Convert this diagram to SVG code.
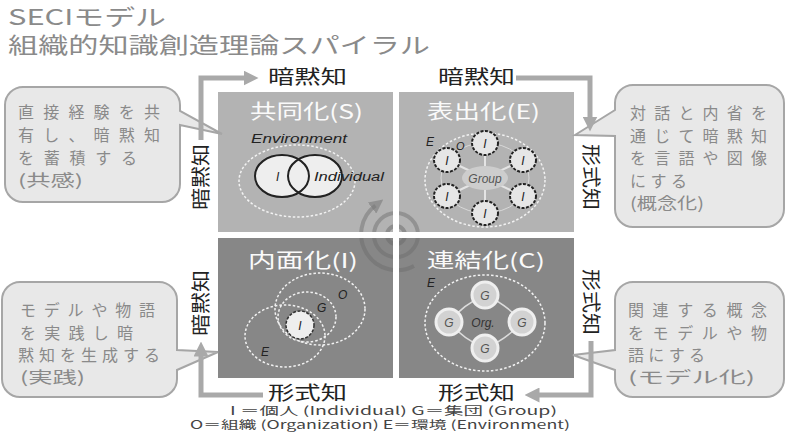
<svg xmlns="http://www.w3.org/2000/svg" width="787" height="438" viewBox="0 0 787 438">
<style>
.jp{font-family:"Noto Sans CJK JP","Noto Sans",sans-serif;}
.title{font-size:22px;fill:#8a8a8a;}
.bub{fill:#e8e8e8;stroke:#a6a6a6;stroke-width:2;}
.bt{font-size:16px;fill:#8a8a8a;}
.ql{font-size:20px;fill:#fafafa;}
.flow{font-size:19px;fill:#222;}
.arr{fill:none;stroke:#a9a9a9;stroke-width:5;}
.lat{font-family:"Liberation Sans",Arial,sans-serif;font-style:italic;font-size:12px;fill:#222;}
.dash{fill:none;stroke:#f2f2f2;stroke-width:1.5;stroke-dasharray:2.5 2;}
.leg{font-size:11.5px;fill:#444;}
</style>
<defs>
<marker id="ah" viewBox="0 0 10 10" refX="3" refY="5" markerWidth="15" markerHeight="15" markerUnits="userSpaceOnUse" orient="auto">
<path d="M0,0 L10,5 L0,10 Z" fill="#a9a9a9"/>
</marker>
<marker id="sp" viewBox="0 0 10 10" refX="3" refY="5" markerWidth="14" markerHeight="14" markerUnits="userSpaceOnUse" orient="auto">
<path d="M0,0 L10,5 L0,10 Z" fill="#7a7a7a" fill-opacity="0.6"/>
</marker>
</defs>

<g id="title">
<text class="jp title" x="8" y="25" textLength="158" lengthAdjust="spacingAndGlyphs">SECIモデル</text>
<text class="jp title" x="8" y="53" textLength="422" lengthAdjust="spacingAndGlyphs">組織的知識創造理論スパイラル</text>
</g>

<g id="quadrant-S">
<rect x="218" y="92" width="175" height="140" fill="#b3b3b3"/>
<text class="jp ql" x="250" y="119" textLength="113" lengthAdjust="spacingAndGlyphs">共同化(S)</text>
<ellipse class="dash" cx="297" cy="181" rx="58" ry="36"/>
<text class="lat" x="251" y="143" textLength="96" lengthAdjust="spacingAndGlyphs">Environment</text>
<ellipse cx="282" cy="176" rx="27" ry="21" fill="#eeeeee"/>
<ellipse cx="315" cy="176" rx="27" ry="21" fill="#eeeeee"/>
<ellipse cx="282" cy="176" rx="27" ry="21" fill="none" stroke="#222" stroke-width="2"/>
<ellipse cx="315" cy="176" rx="27" ry="21" fill="none" stroke="#222" stroke-width="2"/>
<text class="lat" x="276" y="181">I</text>
<text class="lat" x="314" y="181" textLength="70" lengthAdjust="spacingAndGlyphs">Individual</text>
</g>

<g id="quadrant-E">
<rect x="399" y="92" width="175" height="140" fill="#b3b3b3"/>
<text class="jp ql" x="427" y="119" textLength="113" lengthAdjust="spacingAndGlyphs">表出化(E)</text>
<ellipse class="dash" cx="485" cy="180" rx="60" ry="47"/>
<ellipse cx="485" cy="178" rx="44" ry="35" fill="none" stroke="#d8d8d8" stroke-width="1"/>
<g stroke="#e4e4e4" stroke-width="2">
<line x1="485" y1="178" x2="485" y2="143"/>
<line x1="485" y1="178" x2="485" y2="213"/>
<line x1="485" y1="178" x2="523" y2="160"/>
<line x1="485" y1="178" x2="523" y2="196"/>
<line x1="485" y1="178" x2="447" y2="160"/>
<line x1="485" y1="178" x2="447" y2="196"/>
</g>
<ellipse cx="485" cy="178" rx="23" ry="12" fill="#cdcdcd"/>
<text class="lat" x="485" y="183" text-anchor="middle" style="fill:#555">Group</text>
<g fill="#e6e6e6" stroke="#222" stroke-width="2" stroke-dasharray="3 1.5">
<ellipse cx="485" cy="143" rx="13" ry="12"/>
<ellipse cx="523" cy="160" rx="13" ry="12"/>
<ellipse cx="523" cy="196" rx="13" ry="12"/>
<ellipse cx="485" cy="213" rx="13" ry="12"/>
<ellipse cx="447" cy="196" rx="13" ry="12"/>
<ellipse cx="447" cy="160" rx="13" ry="12"/>
</g>
<g class="lat" text-anchor="middle">
<text x="485" y="148">I</text>
<text x="523" y="165">I</text>
<text x="523" y="201">I</text>
<text x="485" y="218">I</text>
<text x="447" y="201">I</text>
<text x="447" y="165">I</text>
</g>
<text class="lat" x="426" y="146">E</text>
<text class="lat" x="456" y="150" style="font-size:11px">O</text>
</g>

<g id="quadrant-I">
<rect x="218" y="238" width="175" height="140" fill="#878787"/>
<text class="jp ql" x="248" y="268" textLength="110" lengthAdjust="spacingAndGlyphs">内面化(I)</text>
<ellipse class="dash" cx="320" cy="309" rx="45" ry="36"/>
<ellipse class="dash" cx="307" cy="317" rx="29" ry="25"/>
<ellipse class="dash" cx="285" cy="336" rx="40" ry="31"/>
<circle cx="300" cy="325" r="14" fill="#eeeeee" stroke="#333" stroke-width="1.5" stroke-dasharray="3 1.5"/>
<text class="lat" x="300" y="330" text-anchor="middle">I</text>
<text class="lat" x="338" y="299">O</text>
<text class="lat" x="317" y="312">G</text>
<text class="lat" x="261" y="356">E</text>
</g>

<g id="quadrant-C">
<rect x="399" y="238" width="175" height="140" fill="#878787"/>
<text class="jp ql" x="427" y="268" textLength="118" lengthAdjust="spacingAndGlyphs">連結化(C)</text>
<ellipse class="dash" cx="485" cy="323" rx="60" ry="48"/>
<path d="M485,295 Q506,304 522,322 Q506,340 485,348 Q464,340 449,322 Q464,304 485,295 Z" fill="none" stroke="#dcdcdc" stroke-width="1.5"/>
<g fill="#d2d2d2" stroke="#efefef" stroke-width="3">
<circle cx="485" cy="295" r="13"/>
<circle cx="449" cy="322" r="13"/>
<circle cx="522" cy="322" r="13"/>
<circle cx="485" cy="348" r="13"/>
</g>
<g class="lat" text-anchor="middle" style="fill:#555">
<text x="485" y="300">G</text>
<text x="449" y="327">G</text>
<text x="522" y="327">G</text>
<text x="485" y="353">G</text>
</g>
<text class="lat" x="483" y="327" text-anchor="middle" style="fill:#333">Org.</text>
<text class="lat" x="427" y="287">E</text>
</g>

<g id="spiral">
<circle cx="396" cy="235" r="9" fill="none" stroke="#6a6a6a" stroke-opacity="0.5" stroke-width="4"/>
<circle cx="396" cy="235" r="22" fill="none" stroke="#6a6a6a" stroke-opacity="0.45" stroke-width="4"/>
<path d="M414,266 A36,36 0 0 1 375.4,205.5" fill="none" stroke="#6a6a6a" stroke-opacity="0.45" stroke-width="4" marker-end="url(#sp)"/>
<rect x="218" y="232" width="356" height="6" fill="#ffffff"/>
<rect x="393" y="92" width="6" height="286" fill="#ffffff"/>
</g>

<g id="bubble-S">
<path class="bub" d="M23,87 H162 A18,18 0 0 1 180,105 V111 L222,134 L180,125 V184 A18,18 0 0 1 162,202 H23 A18,18 0 0 1 5,184 V105 A18,18 0 0 1 23,87 Z"/>
<text class="jp bt" x="18" y="118" textLength="142">直接経験を共</text>
<text class="jp bt" x="18" y="141" textLength="142">有し、暗黙知</text>
<text class="jp bt" x="18" y="164" textLength="119">を蓄積する</text>
<text class="jp bt" x="18" y="186" textLength="65" lengthAdjust="spacingAndGlyphs">(共感)</text>
</g>

<g id="bubble-E">
<path class="bub" d="M633,85 H766 A18,18 0 0 1 784,103 V209 A18,18 0 0 1 766,227 H633 A18,18 0 0 1 615,209 V136 L575,135 L615,110 V103 A18,18 0 0 1 633,85 Z"/>
<text class="jp bt" x="630" y="119" textLength="137">対話と内省を</text>
<text class="jp bt" x="630" y="142" textLength="137">通じて暗黙知</text>
<text class="jp bt" x="630" y="164" textLength="137">を言語や図像</text>
<text class="jp bt" x="630" y="187" textLength="57">にする</text>
<text class="jp bt" x="630" y="209" textLength="74" lengthAdjust="spacingAndGlyphs">(概念化)</text>
</g>

<g id="bubble-I">
<path class="bub" d="M20,282 H159 A18,18 0 0 1 177,300 V350 L218,352 L177,370 V379 A18,18 0 0 1 159,397 H20 A18,18 0 0 1 2,379 V300 A18,18 0 0 1 20,282 Z"/>
<text class="jp bt" x="20" y="316" textLength="135">モデルや物語</text>
<text class="jp bt" x="20" y="339" textLength="113">を実践し暗</text>
<text class="jp bt" x="18" y="361" textLength="142">黙知を生成する</text>
<text class="jp bt" x="20" y="383" textLength="65" lengthAdjust="spacingAndGlyphs">(実践)</text>
</g>

<g id="bubble-C">
<path class="bub" d="M633,282 H766 A18,18 0 0 1 784,300 V379 A18,18 0 0 1 766,397 H633 A18,18 0 0 1 615,379 V370 L573,355 L615,350 V300 A18,18 0 0 1 633,282 Z"/>
<text class="jp bt" x="628" y="316" textLength="139">関連する概念</text>
<text class="jp bt" x="628" y="339" textLength="139">をモデルや物</text>
<text class="jp bt" x="628" y="361" textLength="77">語にする</text>
<text class="jp bt" x="628" y="383" textLength="127" lengthAdjust="spacingAndGlyphs">(モデル化)</text>
</g>

<g id="connectors">
<path class="arr" d="M201,140 V78 H248" marker-end="url(#ah)"/>
<path class="arr" d="M516,78 H590 V121" marker-end="url(#ah)"/>
<path class="arr" d="M591,341 V395 H535" marker-end="url(#ah)"/>
<path class="arr" d="M263,395 H201 V352" marker-end="url(#ah)"/>
</g>

<g id="flow-labels">
<text class="jp flow" x="268" y="84" textLength="79" lengthAdjust="spacingAndGlyphs">暗黙知</text>
<text class="jp flow" x="438" y="84" textLength="77" lengthAdjust="spacingAndGlyphs">暗黙知</text>
<text class="jp flow" x="268" y="400" textLength="79" lengthAdjust="spacingAndGlyphs">形式知</text>
<text class="jp flow" x="438" y="400" textLength="77" lengthAdjust="spacingAndGlyphs">形式知</text>
<text class="jp flow" transform="translate(208,210) rotate(-90)" textLength="66" lengthAdjust="spacingAndGlyphs">暗黙知</text>
<text class="jp flow" transform="translate(208,336) rotate(-90)" textLength="66" lengthAdjust="spacingAndGlyphs">暗黙知</text>
<text class="jp flow" transform="translate(584,144) rotate(90)" textLength="66" lengthAdjust="spacingAndGlyphs">形式知</text>
<text class="jp flow" transform="translate(584,269) rotate(90)" textLength="66" lengthAdjust="spacingAndGlyphs">形式知</text>
</g>

<g id="legend">
<text class="jp leg" x="230" y="415" textLength="327" lengthAdjust="spacingAndGlyphs">I ＝個人 (Individual)  G＝集団 (Group)</text>
<text class="jp leg" x="190" y="429" textLength="380" lengthAdjust="spacingAndGlyphs">O＝組織 (Organization)  E＝環境 (Environment)</text>
</g>
</svg>
